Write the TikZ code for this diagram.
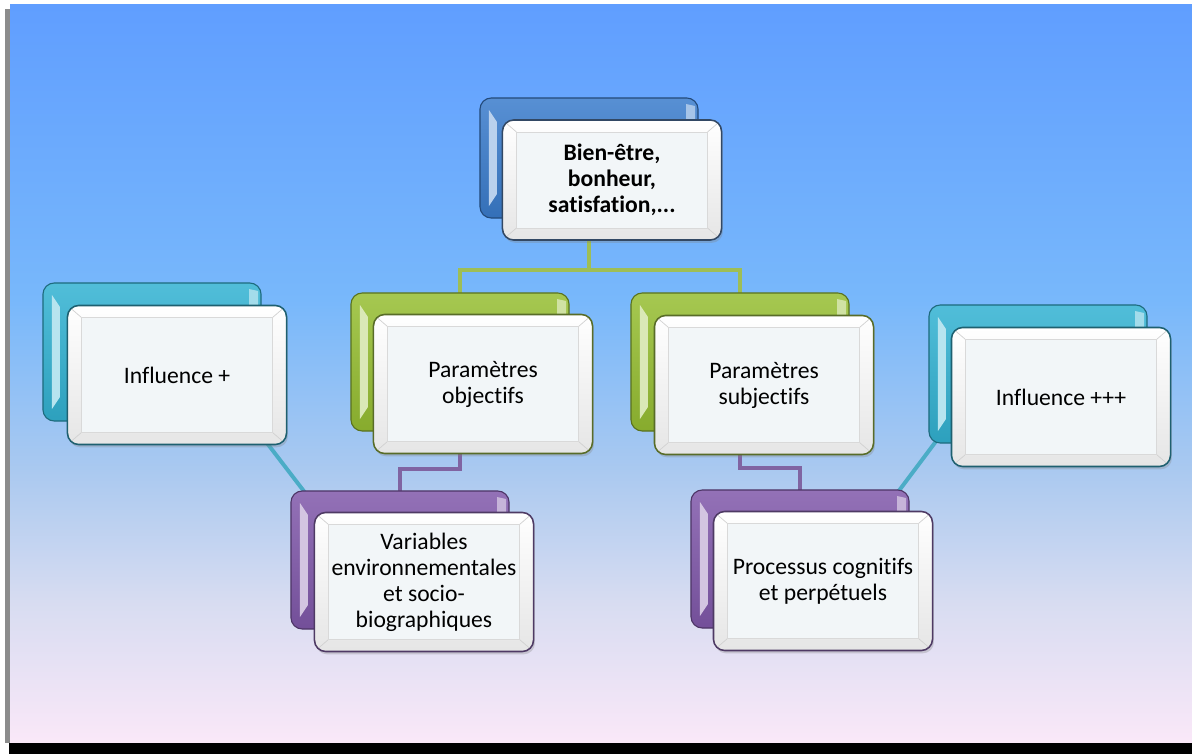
\documentclass[tikz,border=0pt]{standalone}
\usepackage{fontspec}
\setmainfont{Carlito}[Ligatures=NoCommon]
\usepackage{tikz}
\usetikzlibrary{calc, shadows}

\definecolor{panelTop}{RGB}{96,158,255}
\definecolor{panelMid}{RGB}{120,184,251}
\definecolor{panelLow}{RGB}{170,201,240}
\definecolor{panelFade}{RGB}{215,220,241}
\definecolor{panelBot}{RGB}{250,232,248}
\definecolor{blueBack}{RGB}{58,124,204}
\definecolor{greenBack}{RGB}{150,190,50}
\definecolor{cyanBack}{RGB}{50,178,210}
\definecolor{purpleBack}{RGB}{128,88,170}
\definecolor{blueEdge}{RGB}{50,72,100}
\definecolor{greenEdge}{RGB}{88,108,40}
\definecolor{cyanEdge}{RGB}{30,96,112}
\definecolor{purpleEdge}{RGB}{78,58,100}
\definecolor{greenLink}{RGB}{158,190,86}
\definecolor{cyanLink}{RGB}{75,172,198}
\definecolor{purpleLink}{RGB}{128,100,162}
\definecolor{innerFill}{RGB}{242,246,248}

\newcommand{\boxfont}{\fontsize{16.8pt}{18.5pt}\selectfont}

\pgfdeclarelayer{panel}
\pgfdeclarelayer{links}
\pgfsetlayers{panel,links,main}

\tikzset{
  backbox/.style={draw=#1!60!black, line width=.8pt, rounded corners=8pt,
    top color=#1!85!white, bottom color=#1!90!black,
    minimum width=5.45cm, minimum height=3.45cm,
    path picture={
      \fill[#1!35!white, sharp corners]
        ($(path picture bounding box.north west)+(9,12)$) --
        ($(path picture bounding box.north west)+(17,24)$) --
        ($(path picture bounding box.south west)+(17,-24)$) --
        ($(path picture bounding box.south west)+(9,-12)$) -- cycle;
      \fill[#1!45!white, sharp corners]
        ($(path picture bounding box.north east)+(-12,6)$) --
        ($(path picture bounding box.north east)+(-3,8)$) --
        ($(path picture bounding box.north east)+(-3,34)$) --
        ($(path picture bounding box.north east)+(-12,22)$) -- cycle;
    }},
  frontbox/.style={draw=#1, line width=1.1pt, rounded corners=8pt,
    top color=white, bottom color=black!10,
    minimum width=5.475cm, minimum height=3.475cm,
    align=center, font=\boxfont,
    drop shadow={opacity=.3, shadow xshift=1pt, shadow yshift=-2pt},
    path picture={
      \fill[innerFill, sharp corners]
        ($(path picture bounding box.north west)+(14,12)$) rectangle
        ($(path picture bounding box.south east)+(-14,-12)$);
      \foreach \c/\dx/\dy in {north west/14/12, north east/-14/12,
                              south west/14/-12, south east/-14/-12}
        \draw[black!18, line width=.5pt, sharp corners]
          (path picture bounding box.\c) -- ++(\dx,\dy);
      \draw[black!15, line width=.5pt, sharp corners]
        ($(path picture bounding box.north west)+(14,12)$) rectangle
        ($(path picture bounding box.south east)+(-14,-12)$);
    }},
  link/.style={draw=#1, line width=2.8pt},
}

\begin{document}
\begin{tikzpicture}[x=0.025cm, y=-0.025cm]
\useasboundingbox (0,0) rectangle (1192,754);

\begin{pgfonlayer}{panel}
  \fill[white] (0,0) rectangle (1192,754);
  \fill[black!45] (5,9) rectangle (10,743);
  \shade[top color=panelTop, bottom color=panelMid] (10,5) rectangle (1192,301);
  \shade[top color=panelMid, bottom color=panelLow] (10,300) rectangle (1192,471);
  \shade[top color=panelLow, bottom color=panelFade] (10,470) rectangle (1192,601);
  \shade[top color=panelFade, bottom color=panelBot] (10,600) rectangle (1192,743);
  \fill[black] (9,743) rectangle (1192,754);
\end{pgfonlayer}

% top level
\node[backbox=blueBack, minimum height=3cm] (topB) at (589,158) {};
\node[frontbox=blueEdge, minimum height=3cm, font=\boxfont\bfseries] (top) at (612,180)
  {Bien-être,\\bonheur,\\satisfation,...};

% second level
\node[backbox=greenBack] (objB) at (460,362) {};
\node[frontbox=greenEdge] (obj) at (483,384) {Paramètres\\objectifs};
\node[backbox=greenBack] (subjB) at (740,362) {};
\node[frontbox=greenEdge] (subj) at (764,385) {Paramètres\\subjectifs};

% influences
\node[backbox=cyanBack] (inflLB) at (152,352) {};
\node[frontbox=cyanEdge] (inflL) at (177,375) {Influence +};
\node[backbox=cyanBack] (inflRB) at (1038,374) {};
\node[frontbox=cyanEdge] (inflR) at (1061,397) {Influence +++};

% third level
\node[backbox=purpleBack] (varB) at (400,560) {};
\node[frontbox=purpleEdge] (var) at (424,582)
  {Variables\\environnementales\\et socio-\\biographiques};
\node[backbox=purpleBack] (procB) at (800,559) {};
\node[frontbox=purpleEdge] (proc) at (823,581) {Processus cognitifs\\et perpétuels};

\begin{pgfonlayer}{links}
  \draw[link=greenLink] (topB.center) |- ($(topB.center)!.55!(objB.center)$) -| (objB.center);
  \draw[link=greenLink] (topB.center) |- ($(topB.center)!.55!(subjB.center)$) -| (subjB.center);
  \draw[link=purpleLink] (objB.center) |- ($(objB.center)!.54!(varB.center)$) -| (varB.center);
  \draw[link=purpleLink] (subjB.center) |- ($(subjB.center)!.54!(procB.center)$) -| (procB.center);
  % diagonal influence lines
  \coordinate (inflLfoot) at (234,400);
  \coordinate (varHead)   at (326,520);
  \coordinate (procHead)  at (877,520);
  \coordinate (inflRfoot) at (958,412);
  \draw[link=cyanLink] (inflLfoot) -- (varHead);
  \draw[link=cyanLink] (procHead) -- (inflRfoot);
\end{pgfonlayer}

\end{tikzpicture}
\end{document}
